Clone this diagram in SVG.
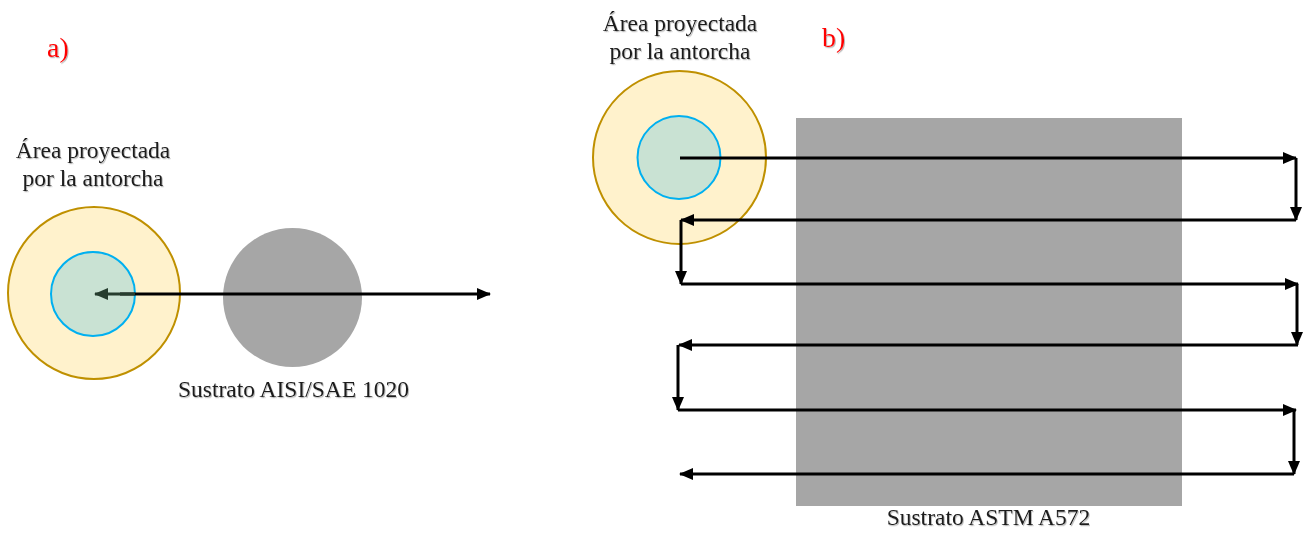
<svg xmlns="http://www.w3.org/2000/svg" width="1303" height="540" viewBox="0 0 1303 540">
<style>
.t{font-family:"Liberation Serif","Times New Roman",serif;font-size:23.5px;fill:#1a1a1a;text-anchor:middle;filter:url(#sh)}
.lab{font-family:"Liberation Serif","Times New Roman",serif;font-size:28px;fill:#ff0000;filter:url(#sh)}
.outer{fill:#fff2cc;stroke:#bf9000;stroke-width:2}
.inner{fill:#c9e2d3;stroke:#00b0f0;stroke-width:2}
.sub{fill:#a6a6a6}
.ln{fill:none;stroke:#000;stroke-width:3}
</style>
<defs>
<filter id="sh" x="-10%" y="-20%" width="130%" height="150%">
<feDropShadow dx="1" dy="1.2" stdDeviation="0.7" flood-color="#777" flood-opacity="0.5"/>
</filter>
<marker id="ah" viewBox="0 0 14 12" refX="13" refY="6" markerWidth="14" markerHeight="12" orient="auto-start-reverse" markerUnits="userSpaceOnUse">
<path d="M0,0 L14,6 L0,12 z" fill="#000"/>
</marker>
<marker id="ahg" viewBox="0 0 14 12" refX="13" refY="6" markerWidth="14" markerHeight="12" orient="auto-start-reverse" markerUnits="userSpaceOnUse">
<path d="M0,0 L14,6 L0,12 z" fill="#263d2e"/>
</marker>
</defs>

<g id="label-a"><text class="lab" x="47" y="57">a)</text></g>
<g id="label-b"><text class="lab" x="822" y="47">b)</text></g>

<g id="torch-a">
<circle class="outer" cx="94" cy="293" r="86"/>
<circle class="inner" cx="93" cy="294" r="42"/>
<text class="t" x="93" y="158">Área proyectada</text>
<text class="t" x="93" y="186">por la antorcha</text>
</g>

<g id="substrate-a">
<circle class="sub" cx="292.5" cy="297.5" r="69.5"/>
<text class="t" x="293.5" y="397">Sustrato AISI/SAE 1020</text>
</g>

<g id="substrate-b">
<rect class="sub" x="796" y="118" width="386" height="388"/>
<text class="t" x="988.5" y="525">Sustrato ASTM A572</text>
</g>

<g id="torch-b">
<circle class="outer" cx="679.5" cy="157.5" r="86.5"/>
<circle class="inner" cx="679" cy="157.5" r="41.5"/>
<text class="t" x="680" y="31">Área proyectada</text>
<text class="t" x="680" y="59">por la antorcha</text>
</g>

<g id="connectors">
<line x1="120" y1="294" x2="490" y2="294" stroke="#000" stroke-width="3" marker-end="url(#ah)"/>
<line x1="135" y1="294" x2="95" y2="294" stroke="#263d2e" stroke-width="3" marker-end="url(#ahg)"/>

<line class="ln" x1="680" y1="158" x2="1296" y2="158" marker-end="url(#ah)"/>
<line class="ln" x1="1296" y1="158" x2="1296" y2="220" marker-end="url(#ah)"/>
<line class="ln" x1="1296" y1="220" x2="681" y2="220" marker-end="url(#ah)"/>
<line class="ln" x1="681" y1="220" x2="681" y2="284" marker-end="url(#ah)"/>
<line class="ln" x1="681" y1="284" x2="1298" y2="284" marker-end="url(#ah)"/>
<line class="ln" x1="1297" y1="284" x2="1297" y2="345" marker-end="url(#ah)"/>
<line class="ln" x1="1298" y1="345" x2="679" y2="345" marker-end="url(#ah)"/>
<line class="ln" x1="678" y1="345" x2="678" y2="410" marker-end="url(#ah)"/>
<line class="ln" x1="678" y1="410" x2="1296" y2="410" marker-end="url(#ah)"/>
<line class="ln" x1="1294" y1="410" x2="1294" y2="474" marker-end="url(#ah)"/>
<line class="ln" x1="1294" y1="474" x2="680" y2="474" marker-end="url(#ah)"/>
</g>
</svg>
